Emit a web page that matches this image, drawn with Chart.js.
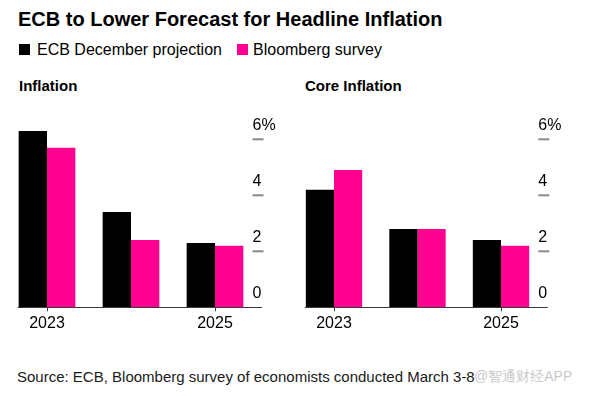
<!DOCTYPE html>
<html>
<head>
<meta charset="utf-8">
<script src="https://cdn.jsdelivr.net/npm/chart.js@4"></script>
<style>
  html, body { margin: 0; padding: 0; background: #fff; }
  body { width: 592px; height: 396px; position: relative; overflow: hidden;
         font-family: "Liberation Sans", Arial, sans-serif; color: #000; }
  .abs { position: absolute; white-space: nowrap; }
  #title { left: 18px; top: 8.8px; font-size: 20px; line-height: 20px; font-weight: bold; }
  .legtxt { font-size: 16px; line-height: 16px; top: 41.5px; }
  .sq { position: absolute; width: 11px; height: 11px; top: 44px; }
  .sub { font-size: 15px; line-height: 15px; font-weight: bold; top: 78.3px; }
  #source { left: 17px; top: 368.8px; font-size: 15px; line-height: 15px; color: #1a1a1a; }
  #wm { left: 474px; top: 369.2px; font-size: 14px; line-height: 14px; color: #c9c9c9; }
  canvas { position: absolute; }
</style>
</head>
<body>
<div id="title" class="abs">ECB to Lower Forecast for Headline Inflation</div>
<div class="sq" style="left:19px;background:#000"></div>
<div class="abs legtxt" style="left:37px">ECB December projection</div>
<div class="sq" style="left:237px;background:#ff0090"></div>
<div class="abs legtxt" style="left:253px">Bloomberg survey</div>
<div class="abs sub" style="left:19px">Inflation</div>
<div class="abs sub" style="left:305px">Core Inflation</div>
<canvas id="c1" width="290" height="240" style="left:0;top:100px"></canvas>
<canvas id="c2" width="302" height="240" style="left:290px;top:100px"></canvas>
<div id="source" class="abs">Source: ECB, Bloomberg survey of economists conducted March 3-8</div>
<div id="wm" class="abs">@智通财经APP</div>
<script>
const categories = ['2023', '2024', '2025'];
const xTickLabels = ['2023', '', '2025'];
const seriesNames = ['ECB December projection', 'Bloomberg survey'];
const headlineECB = [6.3, 3.4, 2.3];
const headlineBloomberg = [5.7, 2.4, 2.2];
const coreECB = [4.2, 2.8, 2.4];
const coreBloomberg = [4.9, 2.8, 2.2];
const yTickValues = [0, 2, 4, 6];
const yTickLabels = ['0', '2', '4', '6%'];

const FONT = '"Liberation Sans", Arial, sans-serif';
const BLACK = '#000000';
const PINK = '#ff0090';

const axisPlugin = {
  id: 'customAxis',
  afterDatasetsDraw(chart) {
    const ctx = chart.ctx;
    const y = chart.scales.y;
    const area = chart.chartArea;
    const R = area.right;
    const bar0 = chart.getDatasetMeta(0).data[0];
    const x0 = bar0.x - bar0.width / 2 - 1;
    const y0 = Math.round(y.getPixelForValue(0)) + 0.5;
    ctx.save();
    ctx.strokeStyle = '#3a3a3a';
    ctx.lineWidth = 1;
    ctx.beginPath();
    ctx.moveTo(x0, y0);
    ctx.lineTo(R + 5, y0);
    ctx.stroke();
    ctx.font = '16px ' + FONT;
    ctx.textAlign = 'left';
    ctx.textBaseline = 'alphabetic';
    ctx.fillStyle = '#000';
    yTickValues.forEach((v, i) => {
      const py = y.getPixelForValue(v);
      if (v !== 0) {
        ctx.strokeStyle = '#8a8a8a';
        ctx.lineWidth = 2;
        ctx.beginPath();
        ctx.moveTo(R - 4.5, py);
        ctx.lineTo(R + 6.5, py);
        ctx.stroke();
      }
      ctx.fillText(yTickLabels[i], R - 4.5, py - 9.5);
    });
    ctx.restore();
  }
};

function makeChart(id, ecb, bbg, padL, padR) {
  return new Chart(document.getElementById(id), {
    type: 'bar',
    data: {
      labels: categories,
      datasets: [
        { label: seriesNames[0], data: ecb, backgroundColor: BLACK, borderWidth: 0 },
        { label: seriesNames[1], data: bbg, backgroundColor: PINK, borderWidth: 0 }
      ]
    },
    options: {
      responsive: false,
      animation: false,
      devicePixelRatio: 1,
      datasets: { bar: { categoryPercentage: 0.675, barPercentage: 1 } },
      layout: { padding: { left: padL, right: padR, top: 11.3, bottom: 3.5 } },
      plugins: { legend: { display: false }, tooltip: { enabled: false } },
      scales: {
        x: {
          border: { display: false },
          grid: {
            display: true, drawOnChartArea: false, drawTicks: true,
            tickLength: 4, offset: false, lineWidth: 1,
            color: (c) => (xTickLabels[c.index] ? '#3a3a3a' : 'rgba(0,0,0,0)')
          },
          ticks: {
            padding: 3, autoSkip: false, maxRotation: 0, color: '#000',
            font: { size: 16, family: FONT },
            callback: (v, i) => xTickLabels[i]
          }
        },
        y: { display: false, min: 0, max: 7 }
      }
    },
    plugins: [axisPlugin]
  });
}

makeChart('c1', headlineECB, headlineBloomberg, 5, 33);
makeChart('c2', coreECB, coreBloomberg, 2.25, 49.25);
</script>
</body>
</html>
